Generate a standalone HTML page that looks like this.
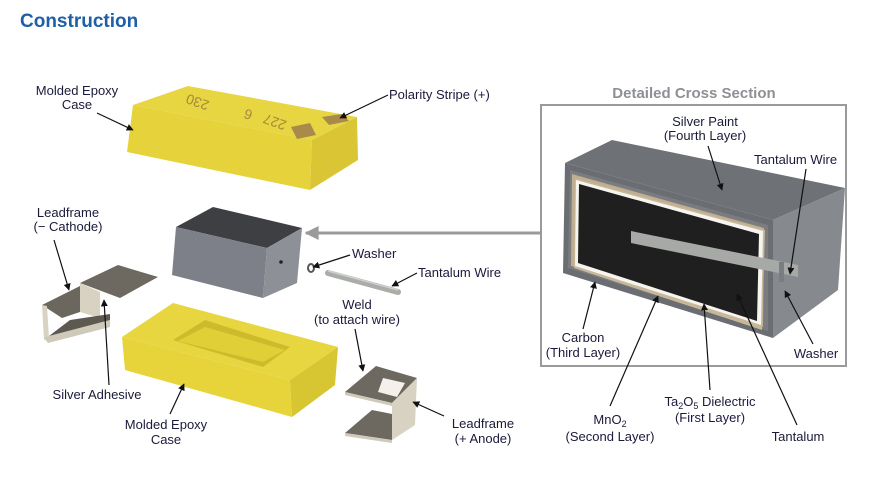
<!DOCTYPE html>
<html><head><meta charset="utf-8"><style>
html,body{margin:0;padding:0;background:#fff;}
svg{display:block;}
text{font-family:"Liberation Sans Narrow","Liberation Sans",sans-serif;font-size:13px;fill:#1a1a3a;}
.c{text-anchor:middle;}
.l{stroke:#111;stroke-width:1.2;fill:none;marker-end:url(#ah);}
</style></head><body>
<svg width="874" height="478" viewBox="0 0 874 478" xmlns="http://www.w3.org/2000/svg">
<defs>
<marker id="ah" viewBox="0 0 10 10" refX="9" refY="5" markerWidth="7" markerHeight="7" orient="auto-start-reverse" markerUnits="userSpaceOnUse">
<path d="M0,0 L10,5 L0,10 z" fill="#111"/></marker>
<marker id="gh" viewBox="0 0 10 10" refX="9" refY="5" markerWidth="16" markerHeight="14" orient="auto" markerUnits="userSpaceOnUse">
<path d="M0,0 L10,5 L0,10 z" fill="#9a9a9a"/></marker>
</defs>

<text x="20" y="27" style="font-family:'Liberation Sans',sans-serif;font-size:19px;font-weight:bold;fill:#1f5fa6">Construction</text>

<!-- top yellow case -->
<polygon points="133,105 188,86 357,117 312,140" fill="#e8d542"/>
<polygon points="133,105 312,140 310,190 127,152" fill="#e6d33c"/>
<polygon points="312,140 357,117 358,160 310,190" fill="#dac634"/>
<polygon points="291,127 310,123 316,135 297,139" fill="#a98a4a"/>
<polygon points="322,117 342,114 349,121 329,125" fill="#a98a4a"/>
<text x="190" y="102" transform="rotate(200 200 100)" style="fill:#a48a3a;font-size:14px">230</text>
<text x="236" y="108" transform="rotate(200 245 108)" style="fill:#a48a3a;font-size:14px">6</text>
<text x="268" y="118" transform="rotate(200 278 118)" style="fill:#a48a3a;font-size:14px">227</text>

<!-- gray cube -->
<polygon points="176,227 213,207 302,228 267,248" fill="#3d3f42"/>
<polygon points="176,227 267,248 263,298 172,275" fill="#7d8088"/>
<polygon points="267,248 302,228 297,283 263,298" fill="#8d9096"/>
<circle cx="281" cy="262" r="1.8" fill="#222"/>

<!-- big gray arrow -->
<line x1="540" y1="233" x2="306" y2="233" stroke="#9a9a9a" stroke-width="3" marker-end="url(#gh)"/>

<!-- washer & wire -->
<ellipse cx="311" cy="268" rx="3" ry="4" fill="none" stroke="#555" stroke-width="2"/>
<line x1="328" y1="273" x2="398" y2="292" stroke="#a9aca8" stroke-width="6" stroke-linecap="round"/>
<line x1="328" y1="271" x2="398" y2="290" stroke="#cfd1cd" stroke-width="1.5"/>

<!-- lower yellow tray -->
<polygon points="122,337 173,303 338,347 290,380" fill="#e8d640"/>
<polygon points="122,337 290,380 292,417 125,370" fill="#e6d43a"/>
<polygon points="290,380 338,347 335,385 292,417" fill="#d8c532"/>
<polygon points="173,340 205,320 290,347 263,367" fill="#cdbb2c"/>
<polygon points="178,341 205,327 285,350 263,362" fill="#e1cf38"/>

<!-- cathode leadframe -->
<polygon points="80,283 118,265 158,277 120,298" fill="#6d6960"/>
<polygon points="80,283 100,292 100,318 80,312" fill="#d8d2c3"/>
<polygon points="42,305 80,286 80,312 62,318" fill="#6b675e"/>
<polygon points="42,305 47,306 49,338 44,340" fill="#d8d2c3"/>
<polygon points="44,338 49,336 110,320 110,327 48,343" fill="#cfc9ba"/>
<polygon points="49,336 70,320 110,314 110,320" fill="#5d5950"/>

<!-- anode leadframe -->
<polygon points="345,392 376,366 417,378 392,403" fill="#6d6960"/>
<polygon points="383,378 405,383 397,397 378,392" fill="#f4f1ea"/>
<polygon points="392,403 417,378 415,425 392,440" fill="#d8d2c3"/>
<polygon points="345,392 392,403 392,406 345,395" fill="#cfc9ba"/>
<polygon points="345,433 372,410 392,414 392,440" fill="#6d6960"/>
<polygon points="345,433 392,440 392,443 345,436" fill="#cfc9ba"/>

<!-- left labels -->
<text class="c" x="77" y="95">Molded Epoxy</text>
<text class="c" x="77" y="109">Case</text>
<line class="l" x1="97" y1="113" x2="133" y2="130"/>
<text x="389" y="99">Polarity Stripe (+)</text>
<line class="l" x1="388" y1="95" x2="340" y2="118"/>
<text class="c" x="68" y="217">Leadframe</text>
<text class="c" x="68" y="231">(− Cathode)</text>
<line class="l" x1="54" y1="240" x2="69" y2="290"/>
<text x="352" y="258">Washer</text>
<line class="l" x1="350" y1="255" x2="313" y2="267"/>
<text x="418" y="277">Tantalum Wire</text>
<line class="l" x1="417" y1="273" x2="392" y2="286"/>
<text class="c" x="357" y="309">Weld</text>
<text class="c" x="357" y="324">(to attach wire)</text>
<line class="l" x1="355" y1="329" x2="363" y2="371"/>
<text class="c" x="97" y="399">Silver Adhesive</text>
<line class="l" x1="109" y1="385" x2="104" y2="300"/>
<text class="c" x="166" y="429">Molded Epoxy</text>
<text class="c" x="166" y="444">Case</text>
<line class="l" x1="170" y1="414" x2="184" y2="384"/>
<text class="c" x="483" y="428">Leadframe</text>
<text class="c" x="483" y="443">(+ Anode)</text>
<line class="l" x1="444" y1="416" x2="413" y2="402"/>

<!-- cross section -->
<text class="c" x="694" y="98" style="font-family:'Liberation Sans',sans-serif;font-size:15px;font-weight:bold;fill:#8d9094">Detailed Cross Section</text>
<rect x="541" y="105" width="305" height="261" fill="#fff" stroke="#9a9a9a" stroke-width="2"/>
<polygon points="565,163 612,140 845,188 773,220" fill="#6e7175"/>
<polygon points="773,220 845,188 838,290 773,338" fill="#86898d"/>
<polygon points="565,163 773,220 773,338 563,273" fill="#6a6d71"/>
<polygon points="570,170 768,225 768,331 568,268" fill="#7a7c80"/>
<polygon points="572,174 764,228 763,327 571,266" fill="#bfae90"/>
<polygon points="575,178 765,230 762,330 574,268" fill="#c8b89a"/>
<polygon points="576,180 763,231 761,325 575,266" fill="#f6f4ef"/>
<polygon points="579,184 759,234 757,321 578,263" fill="#1f1f20"/>
<polygon points="631,231 798,265 798,277 631,243" fill="#a7a9a6"/>
<rect x="779" y="262" width="5" height="20" fill="#7b7d80"/>

<text class="c" x="705" y="126">Silver Paint</text>
<text class="c" x="705" y="140">(Fourth Layer)</text>
<line class="l" x1="708" y1="146" x2="722" y2="190"/>
<text x="754" y="164">Tantalum Wire</text>
<line class="l" x1="806" y1="169" x2="790" y2="274"/>
<text class="c" x="583" y="342">Carbon</text>
<text class="c" x="583" y="357">(Third Layer)</text>
<line class="l" x1="583" y1="329" x2="595" y2="282"/>
<text class="c" x="816" y="358">Washer</text>
<line class="l" x1="813" y1="344" x2="785" y2="291"/>
<text class="c" x="610" y="424">MnO<tspan dy="3" style="font-size:9px">2</tspan></text>
<text class="c" x="610" y="441">(Second Layer)</text>
<line class="l" x1="610" y1="406" x2="658" y2="296"/>
<text class="c" x="710" y="406">Ta<tspan dy="3" style="font-size:9px">2</tspan><tspan dy="-3">O</tspan><tspan dy="3" style="font-size:9px">5</tspan><tspan dy="-3"> Dielectric</tspan></text>
<text class="c" x="710" y="422">(First Layer)</text>
<line class="l" x1="710" y1="390" x2="704" y2="304"/>
<text class="c" x="798" y="441">Tantalum</text>
<line class="l" x1="797" y1="425" x2="737" y2="294"/>
</svg>
</body></html>
